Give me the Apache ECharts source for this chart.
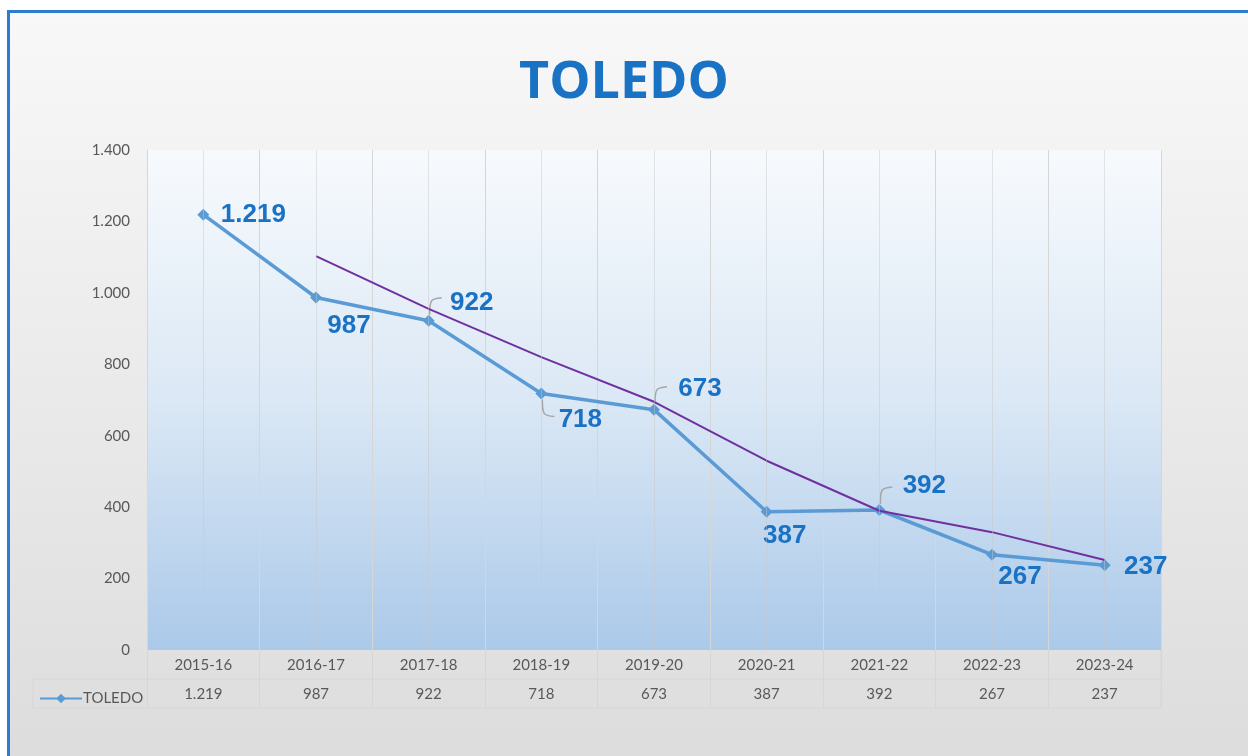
<!DOCTYPE html>
<html>
<head>
<meta charset="utf-8">
<script src="https://cdn.jsdelivr.net/npm/echarts@6/dist/echarts.min.js"></script>
<style>
  html, body { margin: 0; padding: 0; background: #ffffff; }
  #frame {
    position: absolute; left: 7px; top: 10px; width: 1260px; height: 760px;
    border: 3px solid #2b7bcf;
    background: linear-gradient(#f8f8f8, #dcdcdc);
  }
  #main { position: absolute; left: 0; top: 0; width: 1248px; height: 756px; }
</style>
</head>
<body>
<div id="frame"></div>
<div id="main"></div>
<script>
// datos
var cursos = ['2015-16', '2016-17', '2017-18', '2018-19', '2019-20', '2020-21', '2021-22', '2022-23', '2023-24'];
var alumnos = [1219, 987, 922, 718, 673, 387, 392, 267, 237];
// línea de tendencia (media móvil), valores estimados sobre la imagen
var tendencia = [null, 1103, 955, 820, 695, 530, 390, 330, 252];
var ticksY = [0, 200, 400, 600, 800, 1000, 1200, 1400];

// posición de cada etiqueta respecto a su punto [dx, dy]
var offsets = [[50, 0], [33, 28], [43, -18], [39, 26], [46, -21], [18, 24], [45, -24], [28, 22], [41, 1]];
// guía de la etiqueta: -1 hacia arriba, 1 hacia abajo, 0 sin guía
var guias = [0, 0, -1, 1, -1, 0, -1, 0, 0];

function fmt(v) {
  return String(v).replace(/\B(?=(\d{3})+(?!\d))/g, '.');
}

var myChart = echarts.init(document.getElementById('main'));

var puntos = alumnos.map(function (v, i) {
  return {
    value: v,
    label: { show: true, position: 'inside', offset: offsets[i] }
  };
});

myChart.setOption({
  animation: false,
  title: {
    text: 'TOLEDO',
    left: 'center',
    top: 52,
    textStyle: { fontFamily: 'Open Sans', fontWeight: 'bold', fontSize: 52, color: '#1a72c4' }
  },
  legend: {
    left: 34,
    top: 686,
    itemWidth: 42,
    itemHeight: 12,
    itemGap: 4,
    textStyle: { fontFamily: 'Lato', fontSize: 15, color: '#595959', padding: [0, 0, 0, -4] },
    data: ['TOLEDO']
  },
  grid: {
    left: 147, right: 87, top: 150, bottom: 106,
    show: true,
    borderWidth: 0,
    backgroundColor: new echarts.graphic.LinearGradient(0, 0, 0, 1, [
      { offset: 0, color: '#f7fafd' },
      { offset: 0.5, color: '#dbe8f5' },
      { offset: 1, color: '#abc9e9' }
    ])
  },
  xAxis: [{
    type: 'category',
    data: cursos,
    axisLine: { show: false },
    axisTick: { show: true, length: 58, lineStyle: { color: '#d6d6d6' } },
    axisLabel: { fontFamily: 'Lato', fontSize: 15, color: '#595959', margin: 8 },
    splitLine: { show: true, lineStyle: { color: '#d6d6d6', width: 1 } }
  }, {
    type: 'category',
    position: 'bottom',
    offset: 30,
    data: alumnos.map(fmt),
    axisLine: { show: false },
    axisTick: { show: false },
    axisLabel: { fontFamily: 'Lato', fontSize: 15, color: '#595959', margin: 7 }
  }],
  yAxis: {
    type: 'value',
    min: ticksY[0],
    max: ticksY[ticksY.length - 1],
    interval: 200,
    axisLine: { show: false },
    axisTick: { show: false },
    splitLine: { show: false },
    axisLabel: { fontFamily: 'Lato', fontSize: 15, color: '#595959', margin: 17, formatter: fmt }
  },
  series: [{
    name: 'TOLEDO',
    type: 'line',
    data: puntos,
    symbol: 'diamond',
    symbolSize: 12,
    lineStyle: { color: '#5b9bd5', width: 3.5 },
    itemStyle: { color: '#5b9bd5' },
    label: {
      fontFamily: 'Liberation Sans',
      fontWeight: 'bold',
      fontSize: 26,
      color: '#1a72c4',
      formatter: function (p) { return fmt(p.value); }
    },
    markLine: {
      silent: true,
      symbol: 'none',
      label: { show: false },
      lineStyle: { color: 'rgba(200,200,200,0.45)', type: 'solid', width: 1 },
      data: cursos.map(function (c) { return { xAxis: c }; })
    },
    z: 3
  }, {
    name: 'tendencia',
    type: 'line',
    data: tendencia,
    symbol: 'none',
    lineStyle: { color: '#7030a0', width: 2 },
    z: 4
  }, {
    // guías de las etiquetas
    name: 'guias',
    type: 'custom',
    silent: true,
    z: 2,
    data: alumnos.map(function (v, i) { return [i, v, guias[i]]; }),
    renderItem: function (params, api) {
      var d = api.value(2);
      if (!d) return null;
      var p = api.coord([api.value(0), api.value(1)]);
      var x = p[0], y = p[1];
      return {
        type: 'polyline',
        shape: { points: [[x + 1, y + d * 6], [x + 3, y + d * 20], [x + 13, y + d * 23]], smooth: 0.3 },
        style: { stroke: '#a6a6a6', lineWidth: 1.5, fill: null }
      };
    }
  }],
  graphic: [
    { type: 'line', shape: { x1: 33, y1: 679, x2: 1161, y2: 679 }, style: { stroke: '#d6d6d6', lineWidth: 1 } },
    { type: 'line', shape: { x1: 33, y1: 708, x2: 1161, y2: 708 }, style: { stroke: '#d6d6d6', lineWidth: 1 } },
    { type: 'line', shape: { x1: 33, y1: 679, x2: 33, y2: 708 }, style: { stroke: '#d6d6d6', lineWidth: 1 } },
    { type: 'line', shape: { x1: 1161, y1: 650, x2: 1161, y2: 708 }, style: { stroke: '#d6d6d6', lineWidth: 1 } }
  ]
});
</script>
</body>
</html>
